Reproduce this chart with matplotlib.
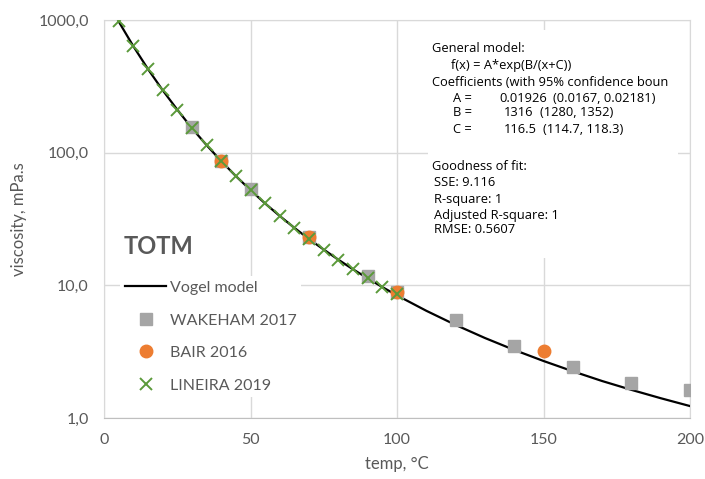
import matplotlib.pyplot as plt
from matplotlib.ticker import FixedLocator, FuncFormatter, NullLocator
from matplotlib.patches import Rectangle

# Vogel model curve
model_t = [5, 10, 15, 20, 25, 30, 35, 40, 45, 50, 55, 60, 65, 70, 75, 80, 85, 90, 95, 100,
           110, 120, 130, 140, 150, 160, 170, 180, 190, 200]
model_v = [975, 635, 427, 296, 211, 153, 114, 86.4, 66.6, 52.2, 41.4, 33.3, 27.1, 22.3, 18.6,
           15.6, 13.2, 11.3, 9.7, 8.4, 6.43, 5.03, 4.01, 3.26, 2.69, 2.25, 1.90, 1.63, 1.41, 1.23]

wakeham_t = [30, 40, 50, 70, 90, 100, 120, 140, 160, 180, 200]
wakeham_v = [155, 86, 53, 23, 11.8, 8.9, 5.45, 3.5, 2.43, 1.82, 1.62]

bair_t = [40, 70, 100, 150]
bair_v = [86, 23, 8.9, 3.2]

lineira_t = [5, 10, 15, 20, 25, 30, 35, 40, 45, 50, 55, 60, 65, 70, 75, 80, 85, 90, 95, 100]
lineira_v = [975, 635, 427, 296, 211, 153, 114, 86.4, 66.6, 52.2, 41.4, 33.3, 27.1, 22.3, 18.6,
             15.6, 13.2, 11.3, 9.7, 8.6]

x_ticks = [0, 50, 100, 150, 200]
y_ticks = [1, 10, 100, 1000]

W, H = 705, 479
grey_txt = '#595959'
grid_c = '#D9D9D9'
plt.rcParams['font.family'] = ['Lato', 'DejaVu Sans']

fig = plt.figure(figsize=(W / 100, H / 100), dpi=100)
ax = fig.add_axes([104 / W, 1 - 418 / H, (690 - 104) / W, (418 - 20) / H])

ax.plot(model_t, model_v, color='black', lw=1.6, label='Vogel model', zorder=3)
ax.plot(wakeham_t, wakeham_v, ls='none', marker='s', ms=9, color='#A5A5A5',
        label='WAKEHAM 2017', zorder=4)
ax.plot(bair_t, bair_v, ls='none', marker='o', ms=9, color='#ED7D31',
        label='BAIR 2016', zorder=5)
ax.plot(lineira_t, lineira_v, ls='none', marker='x', ms=8, mew=1.4, color='#5B9A3A',
        label='LINEIRA 2019', zorder=6)

ax.set_yscale('log')
ax.set_xlim(0, 200)
ax.set_ylim(1, 1000)
ax.xaxis.set_major_locator(FixedLocator(x_ticks))
ax.yaxis.set_major_locator(FixedLocator(y_ticks))
ax.yaxis.set_minor_locator(NullLocator())
ax.yaxis.set_major_formatter(FuncFormatter(lambda v, p: f'{v:.1f}'.replace('.', ',')))
ax.grid(True, color=grid_c, lw=1)
ax.set_axisbelow(True)
for s in ax.spines.values():
    s.set_color(grid_c)
ax.spines['bottom'].set_color('#BFBFBF')
ax.tick_params(length=0, labelsize=11.5, labelcolor=grey_txt, pad=11)
ax.set_xlabel('temp, °C', fontsize=12, color=grey_txt, labelpad=6)
ax.set_ylabel('viscosity, mPa.s', fontsize=12, color=grey_txt, labelpad=8)

leg = ax.legend(loc='upper left', bbox_to_anchor=(112 / W, 1 - 268 / H),
                bbox_transform=fig.transFigure, fontsize=11.5, frameon=True,
                facecolor='white', edgecolor='none', framealpha=1, fancybox=False,
                handlelength=2.6, handletextpad=0.2, labelspacing=1.15,
                borderpad=0.3)
for t in leg.get_texts():
    t.set_color(grey_txt)

fig.text(124 / W, 1 - 247 / H, 'TOTM', fontsize=17, fontweight='bold',
         color=grey_txt, va='center', ha='left')

# white annotation panel
fig.patches.append(Rectangle((428 / W, 1 - 258 / H), 250 / W, 228 / H,
                             transform=fig.transFigure, facecolor='white',
                             edgecolor='none', zorder=2))
ann = [
    (432, 48, 'General model:', 'left'),
    (451, 65, 'f(x) = A*exp(B/(x+C))', 'left'),
    (432, 82, 'Coefficients (with 95% confidence boun', 'left'),
    (453, 98, 'A =', 'left'), (547, 98, '0.01926', 'right'), (553, 98, '(0.0167, 0.02181)', 'left'),
    (453, 113, 'B =', 'left'), (533, 113, '1316', 'right'), (540, 113, '(1280, 1352)', 'left'),
    (453, 129, 'C =', 'left'), (537, 129, '116.5', 'right'), (543, 129, '(114.7, 118.3)', 'left'),
    (432, 167, 'Goodness of fit:', 'left'),
    (434, 183, 'SSE: 9.116', 'left'),
    (434, 200, 'R-square: 1', 'left'),
    (434, 215, 'Adjusted R-square: 1', 'left'),
    (434, 230, 'RMSE: 0.5607', 'left'),
]
for x, y, s, ha in ann:
    fig.text(x / W, 1 - y / H, s, fontsize=9.3, color='black', va='center',
             ha=ha, family=['Open Sans', 'DejaVu Sans'], zorder=3)

fig.savefig('out.png', dpi=100)
